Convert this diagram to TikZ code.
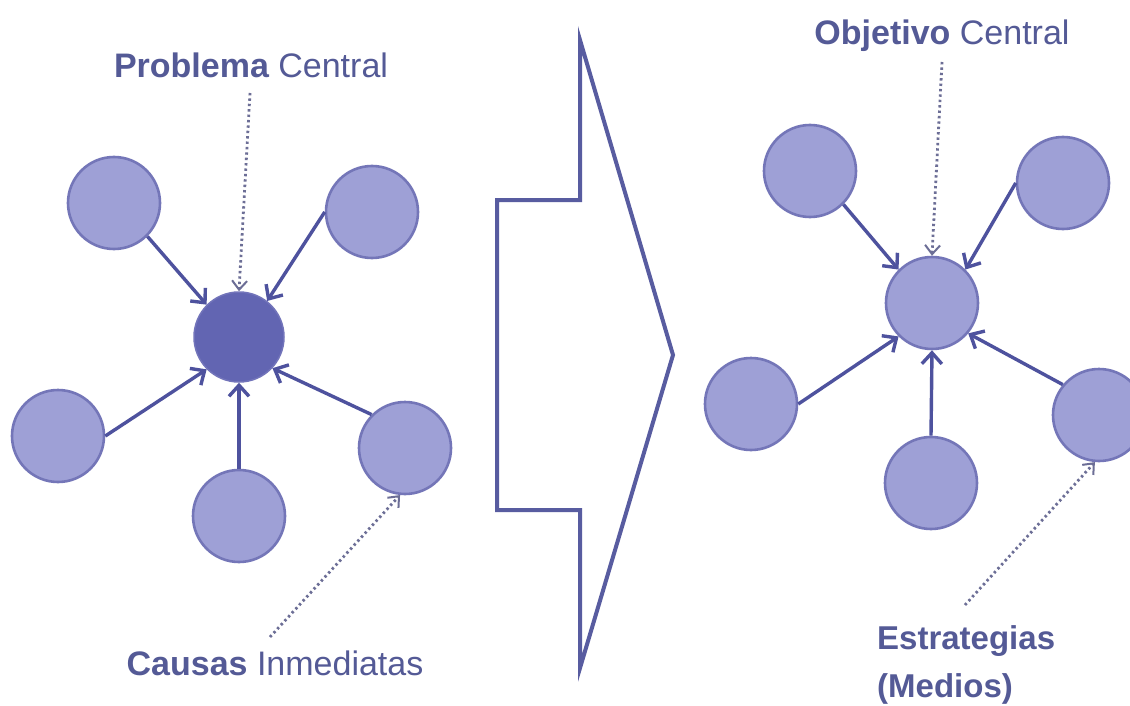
\documentclass[tikz,border=0pt]{standalone}
\usepackage{fontspec}
\setmainfont{Liberation Sans}
\usetikzlibrary{arrows.meta}
\definecolor{txtc}{RGB}{84,90,150}
\definecolor{circfill}{RGB}{158,160,214}
\definecolor{circline}{RGB}{116,118,184}
\definecolor{darkfill}{RGB}{98,101,178}
\definecolor{arrc}{RGB}{78,82,158}
\definecolor{dotc}{RGB}{108,110,150}
\definecolor{bigc}{RGB}{88,92,160}
\tikzset{
  circ/.style={circle, minimum size=92pt, inner sep=0pt, fill=circfill, draw=circline, line width=2.6pt},
  darkcirc/.style={circle, minimum size=90pt, inner sep=0pt, fill=darkfill, draw=darkfill!90!white, line width=1.5pt},
  arr/.style={draw=arrc, line width=3.4pt, -{Straight Barb[length=11pt,width=20pt]}},
  dotarr/.style={draw=dotc, line width=2.8pt, dash pattern=on 2.4pt off 3pt, -{Straight Barb[length=9pt,width=15pt,line width=2pt]}},
  lbl/.style={text=txtc, font=\fontsize{34}{40}\selectfont, inner sep=0pt},
  bigarrow/.style={draw=bigc, line width=4pt, line join=miter}
}
\begin{document}
\begin{tikzpicture}[x=1pt,y=-1pt]
\useasboundingbox[fill=white] (0,0) rectangle (1130,706);

% ---------- left cluster ----------
\node[darkcirc] (pc) at (239,337) {};
\node[circ] (ltl) at (114,203) {};
\node[circ] (ltr) at (372,212) {};
\node[circ] (ll)  at (58,436) {};
\node[circ] (lb)  at (239,516) {};
\node[circ] (lr)  at (405,448) {};

\draw[arr] (ltl.-45) -- (pc.135);
\draw[arr] (ltr.west) -- (pc.52);
\draw[arr] (ll.east) -- (pc.225);
\draw[arr] (lb.north) -- (pc.south);
\draw[arr] (lr.135) -- (pc.-43);

\node[lbl, anchor=base] (tpc) at (251,78) {{\bfseries Problema} Central};
\coordinate (spc) at (250,93);
\draw[dotarr] (spc) -- (pc.north);

\node[lbl, anchor=base] (tci) at (275,675) {{\bfseries Causas} Inmediatas};
\coordinate (sci) at (270,637);
\draw[dotarr] (sci) -- (lr.-96);

% ---------- big arrow ----------
\draw[bigarrow] (497,200) -- (580,200) -- (580,40) -- (673,355) -- (580,668) -- (580,510) -- (497,510) -- cycle;

% ---------- right cluster ----------
\node[circ] (oc)  at (932,303) {};
\node[circ] (rtl) at (810,171) {};
\node[circ] (rtr) at (1063,183) {};
\node[circ] (rl)  at (751,404) {};
\node[circ] (rb)  at (931,483) {};
\node[circ] (rr)  at (1099,415) {};

\draw[arr] (rtl.-45) -- (oc.135);
\draw[arr] (rtr.west) -- (oc.45);
\draw[arr] (rl.east) -- (oc.225);
\draw[arr] (rb.north) -- (oc.south);
\draw[arr] (rr.140) -- (oc.-40);

\node[lbl, anchor=base] (toc) at (942,45) {{\bfseries Objetivo} Central};
\coordinate (soc) at (942,62);
\draw[dotarr] (soc) -- (oc.north);

\node[lbl, anchor=base west, font=\bfseries\fontsize{33}{40}\selectfont] (tes) at (877,649) {Estrategias};
\node[lbl, anchor=base west, font=\bfseries\fontsize{33}{40}\selectfont] (tme) at (877,697) {(Medios)};
\coordinate (ses) at (965,605);
\draw[dotarr] (ses) -- (rr.-95);
\end{tikzpicture}
\end{document}
